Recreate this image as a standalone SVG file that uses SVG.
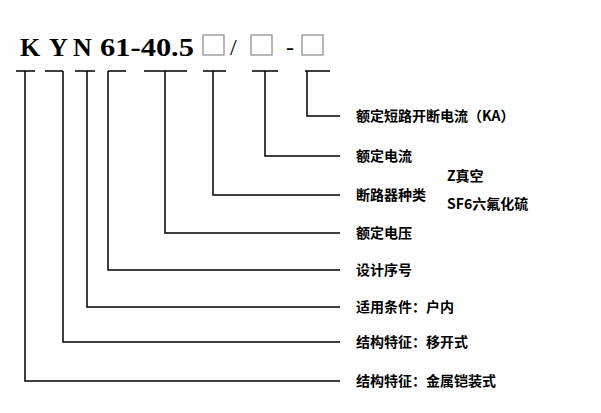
<svg xmlns="http://www.w3.org/2000/svg" width="601" height="413" viewBox="0 0 601 413">
<style>
.l{stroke:#000;stroke-width:1.5;fill:none}
.t{font-family:"Noto Sans CJK SC",sans-serif;font-size:14px;font-weight:bold}
.h{font-family:"Liberation Serif",serif;font-size:26px;font-weight:bold}
.b{fill:none;stroke:#888;stroke-width:1.2}
</style>
<rect width="601" height="413" fill="#fff"/>
<g id="title">
<text class="h" x="20" y="56">K</text>
<text class="h" x="49" y="56">Y</text>
<text class="h" x="73" y="56">N</text>
<text class="h" x="100" y="56" textLength="94" lengthAdjust="spacingAndGlyphs">61-40.5</text>
<rect class="b" x="203" y="35" width="21" height="20"/>
<text x="230" y="55" font-family="Liberation Serif,serif" font-size="24">/</text>
<rect class="b" x="251" y="35" width="21" height="20"/>
<text x="286" y="55" font-family="Liberation Serif,serif" font-size="24">-</text>
<rect class="b" x="302" y="35" width="21" height="20"/>
</g>
<g id="connectors">
<path class="l" d="M16 71H35M25 71V381H340"/>
<path class="l" d="M45 71H63M63 71V342H340"/>
<path class="l" d="M75 71H95M87 71V307H340"/>
<path class="l" d="M108 71H126M108 71V270H340"/>
<path class="l" d="M144 71H187M165 71V233H340"/>
<path class="l" d="M203 71H226M213 71V195H340"/>
<path class="l" d="M252 71H278M265 71V156H340"/>
<path class="l" d="M305 71H330M307 71V116H340"/>
</g>
<g id="labels">
<text class="t" x="356" y="121">额定短路开断电流（KA）</text>
<text class="t" x="356" y="161">额定电流</text>
<text class="t" x="447" y="181" font-size="11">Z真空</text>
<text class="t" x="356" y="200">断路器种类</text>
<text class="t" x="447" y="209">SF6六氟化硫</text>
<text class="t" x="356" y="238">额定电压</text>
<text class="t" x="356" y="275">设计序号</text>
<text class="t" x="356" y="312">适用条件：户内</text>
<text class="t" x="356" y="347">结构特征：移开式</text>
<text class="t" x="356" y="386">结构特征：金属铠装式</text>
</g>
</svg>
